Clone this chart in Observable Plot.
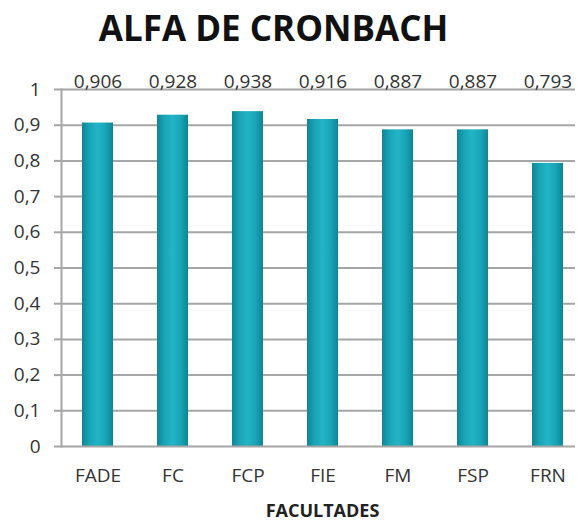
<!DOCTYPE html>
<html><head><meta charset="utf-8">
<script src="https://cdn.jsdelivr.net/npm/d3@7"></script>
<script src="https://cdn.jsdelivr.net/npm/@observablehq/plot@0.6"></script>
<style>
body{margin:0;background:#fff;font-family:"Open Sans",sans-serif;}
#title{height:60px;line-height:56px;text-align:center;font-weight:700;font-size:35px;color:#111;padding-right:32px;}
</style></head><body>
<div id="title">ALFA DE CRONBACH</div>
<div id="chart"></div>
<script>
const facultades = ["FADE","FC","FCP","FIE","FM","FSP","FRN"];
const alfa = [0.906,0.928,0.938,0.916,0.887,0.887,0.793];
const yTicks = [0,0.1,0.2,0.3,0.4,0.5,0.6,0.7,0.8,0.9,1];
const data = facultades.map((f,i)=>({f, v: alfa[i]}));
const comma = (v, d) => d3.format(d)(v).replace(".", ",");

const chart = Plot.plot({
  width: 579, height: 462,
  marginLeft: 61, marginRight: 4, marginTop: 29, marginBottom: 76,
  style: {fontFamily: '"Open Sans", sans-serif', fontSize: "19px", color: "#333"},
  x: {domain: facultades, range: [59.5, 584.5], paddingInner: 0.587, paddingOuter: 0.2935, label: null, axis: null},
  y: {domain: [0,1], label: null, axis: null},
  marks: [
    Plot.ruleY(yTicks.filter(t=>t>0), {stroke: "#a6a6a6", strokeWidth: 2}),
    Plot.barY(data, {x: "f", y: "v", fill: "url(#barGrad)"}),
    Plot.frame({anchor: "left", stroke: "#a6a6a6", strokeWidth: 2}),
    Plot.ruleY([0], {stroke: "#a6a6a6", strokeWidth: 2}),
    Plot.axisY(yTicks, {ticks: yTicks, tickFormat: d => d === 0 || d === 1 ? String(d) : comma(d, ".1f"), tickSize: 7, tickPadding: 14, stroke: "#a6a6a6", strokeWidth: 2, fill: "#333", fontSize: 19}),
    Plot.axisX({tickSize: 0, tickPadding: 22, fill: "#333", fontSize: 19}),
    Plot.text(data, {x: "f", y: () => 1, text: d => comma(d.v, ".3f"), lineAnchor: "bottom", dy: -2, fill: "#333", fontSize: 19}),
    Plot.text(["FACULTADES"], {frameAnchor: "bottom", x: null, dx: 4, dy: 70, lineAnchor: "bottom", text: d=>d, fontWeight: "bold", fontSize: 18, fill: "#222"})
  ]
});
const defs = d3.create("svg:defs");
defs.html(`<linearGradient id="barGrad" x1="0" x2="1" y1="0" y2="0">
  <stop offset="0" stop-color="#0e8595"/>
  <stop offset="0.25" stop-color="#19a6b7"/>
  <stop offset="0.5" stop-color="#22b4c5"/>
  <stop offset="0.75" stop-color="#19a6b7"/>
  <stop offset="1" stop-color="#0e8595"/>
</linearGradient>`);
chart.insertBefore(defs.node(), chart.firstChild);
document.getElementById("chart").appendChild(chart);
</script>
</body></html>
